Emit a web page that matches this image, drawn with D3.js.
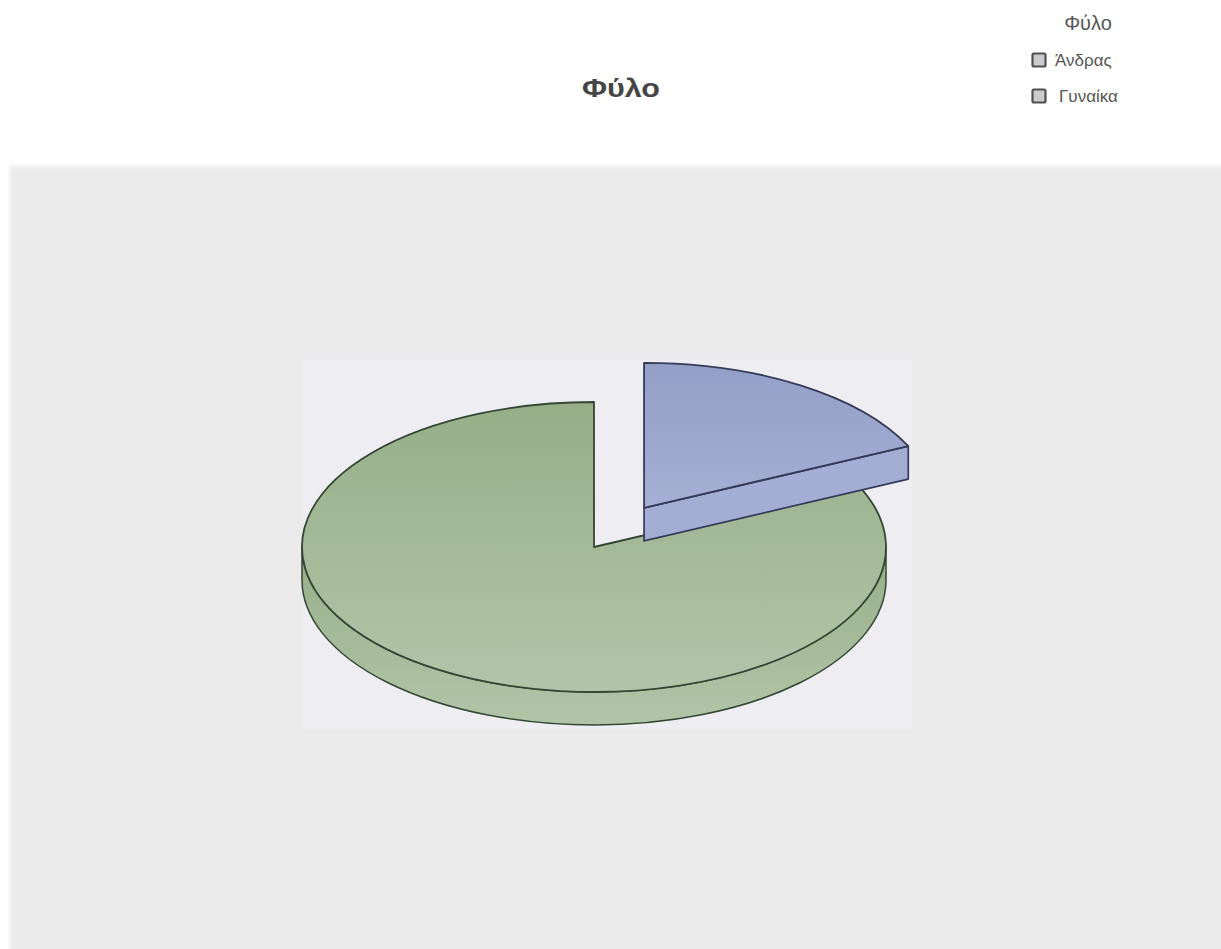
<!DOCTYPE html>
<html>
<head>
<meta charset="utf-8">
<script src="https://cdn.jsdelivr.net/npm/d3@7"></script>
<style>
  html, body { margin: 0; padding: 0; background: #ffffff; }
  svg { display: block; }
</style>
</head>
<body>
<svg id="chart" width="1221" height="949"></svg>
<script>
// Gender split shown as an exploded 3D pie
const categories = ["Άνδρας", "Γυναίκα"];
const values = [18, 82];
const sliceColors = ["#99a3ca", "#9cb38d"];
const wallColors = ["#a4aed4", "#a9bd9c"];
const chartTitle = "Φύλο";
const legendTitle = "Φύλο";

const W = 1221, H = 949;
const svg = d3.select("#chart");
const defs = svg.append("defs");

// soft edge for the backdrop panel
defs.append("filter").attr("id", "soft")
  .attr("x", "-2%").attr("y", "-2%").attr("width", "104%").attr("height", "104%")
  .append("feGaussianBlur").attr("stdDeviation", 2.2);

// vertical shading on each slice
const shade = [
  { id: "g0", top: "#949fc7", bottom: "#a6afd4" },
  { id: "g1", top: "#97ae89", bottom: "#b3c5a9" }
];
shade.forEach(s => {
  const lg = defs.append("linearGradient").attr("id", s.id)
    .attr("x1", 0).attr("y1", 0).attr("x2", 0).attr("y2", 1);
  lg.append("stop").attr("offset", "0%").attr("stop-color", s.top);
  lg.append("stop").attr("offset", "100%").attr("stop-color", s.bottom);
});

// backdrop panel and plot area
svg.append("rect").attr("x", 10).attr("y", 166).attr("width", W - 6).attr("height", H)
  .attr("fill", "#ebebeb").attr("filter", "url(#soft)");
svg.append("rect").attr("x", 303).attr("y", 358).attr("width", 609).attr("height", 371)
  .attr("fill", "#eeeef2");

// title
svg.append("text").attr("x", 582).attr("y", 97)
  .attr("textLength", 78).attr("lengthAdjust", "spacingAndGlyphs")
  .attr("font-family", "Liberation Sans, Arial, sans-serif")
  .attr("font-weight", "bold").attr("font-size", 26)
  .attr("fill", "#454545").text(chartTitle);

// legend
const legend = svg.append("g").attr("font-family", "Liberation Sans, Arial, sans-serif");
legend.append("text").attr("x", 1088).attr("y", 30).attr("text-anchor", "middle")
  .attr("font-size", 20).attr("fill", "#555").text(legendTitle);
const ly = d3.scalePoint().domain(categories).range([60, 96]);
const li = legend.selectAll("g.item").data(categories).enter().append("g").attr("class", "item")
  .attr("transform", d => `translate(1032,${ly(d)})`);
li.append("rect").attr("x", 0.5).attr("y", -6.5).attr("width", 13).attr("height", 13)
  .attr("rx", 1.5).attr("fill", "#cbcbcb").attr("stroke", "#505050").attr("stroke-width", 2.2);
li.append("text").attr("x", (d, i) => i === 0 ? 23 : 27).attr("y", 6)
  .attr("font-size", 17).attr("fill", "#555").text(d => d);

// 3D pie geometry
const cx = 594, cy = 547, rx = 292, ry = 145, depth = 33, explode = 0.32;
const pie = d3.pie().sort(null).startAngle(0).endAngle(2 * Math.PI);
const arcs = pie(values);

const pt = (a, ox, oy, dz = 0) => [ox + rx * Math.sin(a), oy - ry * Math.cos(a) + dz];

function topPath(a0, a1, ox, oy) {
  const p0 = pt(a0, ox, oy), p1 = pt(a1, ox, oy);
  const large = (a1 - a0) > Math.PI ? 1 : 0;
  return `M${ox},${oy}L${p0}A${rx},${ry} 0 ${large} 1 ${p1}Z`;
}
function rimPath(a0, a1, ox, oy) {
  const s = Math.max(a0, Math.PI / 2), e = Math.min(a1, 3 * Math.PI / 2);
  if (e <= s) return null;
  const p0 = pt(s, ox, oy), p1 = pt(e, ox, oy);
  const q1 = pt(e, ox, oy, depth), q0 = pt(s, ox, oy, depth);
  return `M${p0}A${rx},${ry} 0 0 1 ${p1}L${q1}A${rx},${ry} 0 0 0 ${q0}Z`;
}
function wallPath(a, ox, oy) {
  const p = pt(a, ox, oy), q = pt(a, ox, oy, depth);
  return `M${ox},${oy}L${p}L${q}L${ox},${oy + depth}Z`;
}

const strokes = ["#363a58", "#344634"];
const slices = arcs.map((d, i) => {
  const mid = (d.startAngle + d.endAngle) / 2;
  const ex = i === 0 ? explode : 0;
  return {
    i, a0: d.startAngle, a1: d.endAngle,
    ox: cx + ex * rx * Math.sin(mid),
    oy: cy - ex * ry * Math.cos(mid)
  };
});

const pieG = svg.append("g").attr("stroke-linejoin", "round");
// draw the larger slice first, exploded slice on top
[slices[1], slices[0]].forEach(s => {
  const g = pieG.append("g");
  const fill = `url(#g${s.i})`;
  const rim = rimPath(s.a0, s.a1, s.ox, s.oy);
  if (rim) g.append("path").attr("d", rim).attr("fill", fill)
    .attr("stroke", strokes[s.i]).attr("stroke-width", 1.5);
  // end wall, drawn when it faces the viewer
  const wa = s.a1;
  if (Math.cos(wa + Math.PI / 2) < 0 && s.a1 < 2 * Math.PI - 1e-6) {
    g.append("path").attr("d", wallPath(wa, s.ox, s.oy))
      .attr("fill", wallColors[s.i])
      .attr("stroke", strokes[s.i]).attr("stroke-width", 1.7);
  }
  g.append("path").attr("d", topPath(s.a0, s.a1, s.ox, s.oy)).attr("fill", fill)
    .attr("stroke", strokes[s.i]).attr("stroke-width", 1.8);
});
</script>
</body>
</html>
